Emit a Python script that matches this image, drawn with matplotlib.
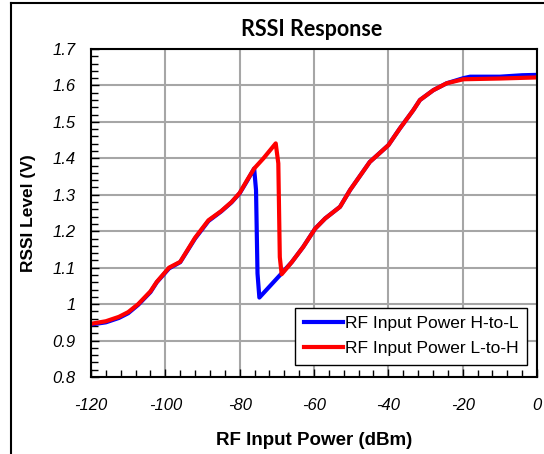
import matplotlib
matplotlib.use("Agg")
import matplotlib.pyplot as plt
from matplotlib.lines import Line2D
from matplotlib.ticker import MultipleLocator

# RF input power swept high-to-low (blue) and low-to-high (red)
hl_x = [-120, -116, -112.5, -110, -107.3, -104, -102.3, -99, -96, -92, -88.4, -85, -82.2, -80, -78, -76.1,
        -75.6, -75.2, -74.7, -69.2, -66, -62.9, -59.7, -57, -53, -50.3, -45, -40, -36.9, -33.3, -31.5,
        -27.9, -24.3, -19.8, -18, -10, -4, 0]
hl_y = [0.944, 0.950, 0.962, 0.975, 0.998, 1.033, 1.060, 1.098, 1.115, 1.180, 1.228, 1.254, 1.279, 1.304, 1.338, 1.372,
        1.313, 1.084, 1.018, 1.079, 1.115, 1.157, 1.207, 1.235, 1.267, 1.313, 1.390, 1.436, 1.482, 1.532, 1.560,
        1.587, 1.606, 1.620, 1.624, 1.624, 1.628, 1.629]

lh_x = [-120, -116, -112.5, -110, -107.3, -104, -102.3, -99, -96, -92, -88.4, -85, -82.2, -80, -78, -76.1,
        -73.6, -70.3, -69.6, -69.2, -68.7, -66, -62.9, -59.7, -57, -53, -50.3, -45, -40, -36.9, -33.3, -31.5,
        -27.9, -24.3, -19.8, -10, 0]
lh_y = [0.946, 0.953, 0.965, 0.978, 1.000, 1.035, 1.061, 1.100, 1.116, 1.182, 1.230, 1.255, 1.280, 1.305, 1.340, 1.372,
        1.400, 1.441, 1.386, 1.129, 1.082, 1.115, 1.157, 1.207, 1.235, 1.267, 1.313, 1.390, 1.436, 1.482, 1.532, 1.560,
        1.587, 1.606, 1.617, 1.619, 1.622]

x_ticks = [-120, -100, -80, -60, -40, -20, 0]
x_labels = ["-120", "-100", "-80", "-60", "-40", "-20", "0"]
y_ticks = [0.8, 0.9, 1.0, 1.1, 1.2, 1.3, 1.4, 1.5, 1.6, 1.7]
y_labels = ["0.8", "0.9", "1", "1.1", "1.2", "1.3", "1.4", "1.5", "1.6", "1.7"]

fig = plt.figure(figsize=(5.44, 4.54), dpi=100)
ax = fig.add_axes([91 / 544, 1 - 377 / 454, (537 - 91) / 544, (377 - 49) / 454])

ax.plot(hl_x, hl_y, color="#0000ff", lw=3, label="RF Input Power H-to-L", solid_joinstyle="round")
ax.plot(lh_x, lh_y, color="#ff0000", lw=3, label="RF Input Power L-to-H", solid_joinstyle="round")

ax.set_xlim(-120, 0)
ax.set_ylim(0.8, 1.7)
ax.xaxis.set_minor_locator(MultipleLocator(4))
ax.yaxis.set_minor_locator(MultipleLocator(0.02))
ax.grid(True, which="major", color="#a6a6a6", lw=1.5)
ax.set_axisbelow(True)
ax.tick_params(which="both", direction="in", length=5, width=1, colors="black")
ax.tick_params(axis="x", which="major", length=6, pad=15)
ax.tick_params(axis="y", which="major", length=6, pad=11)

ax.set_xticks(x_ticks)
ax.set_xticklabels(x_labels)
ax.set_yticks(y_ticks)
ax.set_yticklabels(y_labels)
for lab in ax.get_xticklabels() + ax.get_yticklabels():
    lab.set_family("Liberation Sans")
    lab.set_style("italic")
    lab.set_fontsize(12)

for s in ax.spines.values():
    s.set_color("black")
    s.set_linewidth(1.5)

ax.set_xlabel("RF Input Power (dBm)", family="Liberation Sans", fontweight="bold", fontsize=13.5, labelpad=14)
ax.set_ylabel("RSSI Level (V)", family="Liberation Sans", fontweight="bold", fontsize=12.5, labelpad=12)
fig.text(312 / 544, 1 - 29 / 454, "RSSI Response", family="Lato", fontweight="bold", fontsize=15.5,
         ha="center", va="center")

leg = ax.legend(loc="lower right", bbox_to_anchor=(0.978, 0.037), prop={"family": "Liberation Sans", "size": 12.5},
                fancybox=False, framealpha=1, edgecolor="black", handlelength=2.25, handletextpad=0.1,
                borderpad=0.5, borderaxespad=0, labelspacing=0.55)
leg.get_frame().set_linewidth(1)

# outer chart border (left and top)
fig.add_artist(Line2D([11 / 544, 11 / 544], [0, 1 - 3 / 454], color="black", lw=1.5))
fig.add_artist(Line2D([11 / 544, 1], [1 - 3 / 454, 1 - 3 / 454], color="black", lw=1.5))

fig.savefig("out.png", dpi=100)
